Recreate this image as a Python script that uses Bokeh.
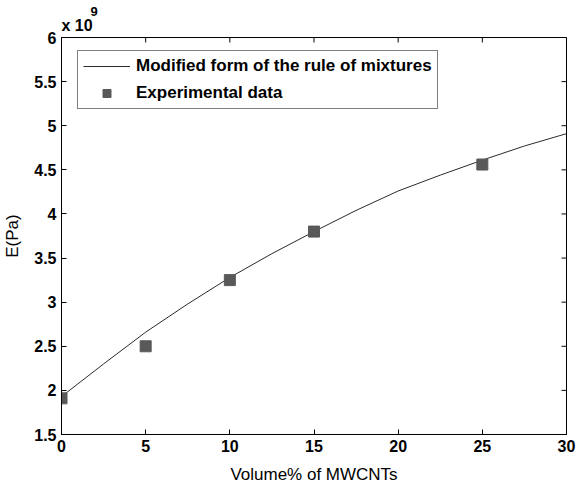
import math
from bokeh.plotting import figure
from bokeh.models import Range1d, Legend, LegendItem, FixedTicker, ColumnDataSource, Title
from bokeh.embed import file_html
from bokeh.resources import INLINE

# Model curve (units of 1e9 Pa)
curve_x = [0, 2.5, 5, 7.5, 10, 12.5, 15, 17.5, 20, 22.5, 25, 27.5, 30]
curve_y = [1.93, 2.30, 2.66, 2.98, 3.28, 3.55, 3.80, 4.04, 4.26, 4.44, 4.61, 4.77, 4.91]

# Experimental data
exp_x = [0, 5, 10, 15, 25]
exp_y = [1.91, 2.50, 3.25, 3.80, 4.56]

x_ticks = [0, 5, 10, 15, 20, 25, 30]
y_ticks = [1.5, 2, 2.5, 3, 3.5, 4, 4.5, 5, 5.5, 6]
x_min, x_max = 0, 30
y_min, y_max = 1.5, 6

FONT = "Liberation Sans"

p = figure(width=576, height=486, output_backend="svg", toolbar_location=None,
           x_range=Range1d(x_min, x_max), y_range=Range1d(y_min, y_max),
           min_border_left=60, min_border_right=10, min_border_top=37, min_border_bottom=49)
p.background_fill_color = "white"
p.border_fill_color = "white"
p.outline_line_color = "black"
p.outline_line_width = 1
p.xgrid.visible = False
p.ygrid.visible = False

for ax, ticks in ((p.xaxis[0], x_ticks), (p.yaxis[0], y_ticks)):
    ax.ticker = FixedTicker(ticks=ticks)
    ax.minor_tick_line_color = None
    ax.major_tick_in = 5
    ax.major_tick_out = 0
    ax.axis_line_color = "black"
    ax.major_tick_line_color = "black"
    ax.major_label_text_font = FONT
    ax.major_label_text_font_style = "bold"
    ax.major_label_text_font_size = "16px"
    ax.major_label_text_color = "black"
    ax.axis_label_text_font = FONT
    ax.axis_label_text_font_style = "normal"
    ax.axis_label_text_font_size = "17px"
    ax.axis_label_text_color = "black"

p.xaxis[0].axis_label = "Volume% of MWCNTs"
p.yaxis[0].axis_label = "E(Pa)"
p.xaxis[0].major_label_standoff = 5
p.xaxis[0].axis_label_standoff = 10
p.yaxis[0].major_label_standoff = 5
p.yaxis[0].axis_label_standoff = 9
p.yaxis[0].major_label_overrides = {1.5: "1.5", 2: "2", 2.5: "2.5", 3: "3", 3.5: "3.5",
                                    4: "4", 4.5: "4.5", 5: "5", 5.5: "5.5", 6: "6"}

# inward ticks on the top and right edges of the box
p.ray(x=x_ticks, y=[y_max] * len(x_ticks), length=5, length_units="screen",
      angle=-math.pi / 2, line_color="black", line_width=1)
p.ray(x=[x_max] * len(y_ticks), y=y_ticks, length=5, length_units="screen",
      angle=math.pi, line_color="black", line_width=1)

src_c = ColumnDataSource(dict(x=curve_x, y=curve_y))
src_e = ColumnDataSource(dict(x=exp_x, y=exp_y))

r_line = p.line("x", "y", source=src_c, line_color="#2b2b2b", line_width=1)
r_mark = p.scatter("x", "y", source=src_e, marker="square", size=11,
                   fill_color="#595959", line_color="#595959")

legend = Legend(items=[LegendItem(label="Modified form of the rule of mixtures", renderers=[r_line]),
                       LegendItem(label="Experimental data", renderers=[r_mark])],
                location=(16, 325), orientation="vertical")
legend.label_text_font = FONT
legend.label_text_font_style = "bold"
legend.label_text_font_size = "17px"
legend.label_text_color = "black"
legend.border_line_color = "black"
legend.border_line_width = 1
legend.background_fill_alpha = 1
legend.padding = 5
legend.margin = 0
legend.spacing = 7
legend.glyph_width = 47
legend.glyph_height = 20
legend.label_height = 20
legend.label_standoff = 6
p.add_layout(legend, "center")

# exponent "x 10^9" above the top-left corner
t_base = Title(text="x 10", align="left", offset=0, standoff=7,
               text_font=FONT, text_font_style="bold", text_font_size="16px", text_color="black")
t_exp = Title(text="9", align="left", offset=29, standoff=-8,
              text_font=FONT, text_font_style="bold", text_font_size="13px", text_color="black")
p.add_layout(t_base, "above")
p.add_layout(t_exp, "above")

open("out.html", "w").write(file_html(p, INLINE))
